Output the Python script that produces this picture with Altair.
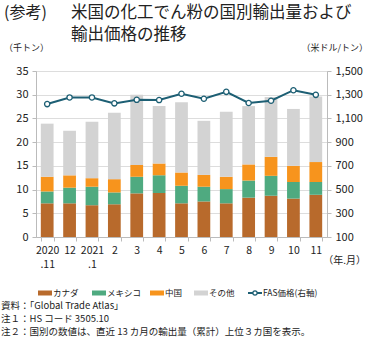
import altair as alt
import pandas as pd

months = ["2020|.11", "12", "2021|.1", "2", "3", "4", "5", "6", "7", "8", "9", "10", "11"]
canada = [7.1, 7.1, 6.7, 6.9, 9.2, 9.3, 7.1, 7.5, 7.1, 8.3, 8.7, 8.1, 8.9]
mexico = [2.5, 3.3, 3.9, 2.5, 3.5, 3.7, 3.7, 3.1, 3.0, 3.6, 4.2, 3.5, 2.7]
china = [3.1, 2.6, 1.8, 2.8, 2.5, 2.5, 2.8, 2.5, 2.6, 3.4, 4.0, 3.4, 4.2]
other = [11.2, 9.4, 11.9, 14.0, 14.8, 12.1, 14.8, 11.4, 13.7, 12.3, 12.6, 12.0, 13.8]
fas_price = [1221, 1277, 1277, 1227, 1257, 1255, 1308, 1266, 1324, 1230, 1249, 1338, 1299]

series = ["カナダ", "メキシコ", "中国", "その他"]
colors = ["#B86A2C", "#4FAA80", "#F7941D", "#D3D3D3"]

FONT = "Noto Sans CJK JP"
W, H = 291, 166
L, T = 36, 71

rows = []
for i, m in enumerate(months):
    for k, (s, vals) in enumerate(zip(series, [canada, mexico, china, other])):
        rows.append({"month": m, "series": s, "order": k, "value": vals[i]})
bars_df = pd.DataFrame(rows)
line_df = pd.DataFrame({"month": months, "price": fas_price})

xenc = alt.X("month:N", sort=months,
             scale=alt.Scale(paddingInner=0.43, paddingOuter=0.215),
             axis=alt.Axis(title=None, labelExpr="split(datum.label, '|')",
                           labelAngle=0, labelFont=FONT, labelFontSize=10.5,
                           labelColor="#222", labelLineHeight=14, labelPadding=4,
                           tickBand="extent", tickColor="#BBBBBB", tickSize=4,
                           domainColor="#BBBBBB", grid=False))

bars = alt.Chart(bars_df).mark_bar().encode(
    x=xenc,
    y=alt.Y("value:Q", stack="zero",
            scale=alt.Scale(domain=[0, 35], nice=False),
            axis=alt.Axis(title=None, values=list(range(0, 36, 5)),
                          labelFont=FONT, labelFontSize=11, labelColor="#222",
                          gridColor="#DDDDDD", domainColor="#BBBBBB",
                          tickColor="#BBBBBB", tickSize=4, labelPadding=4)),
    color=alt.Color("series:N", scale=alt.Scale(domain=series, range=colors), legend=None),
    order=alt.Order("order:Q", sort="ascending"),
)

yscale = alt.Scale(domain=[100, 1500], nice=False)
raxis = alt.Axis(title=None, orient="right", values=list(range(100, 1501, 200)),
                 labelExpr="format(datum.value, ',')", labelOverlap=False,
                 labelFont=FONT, labelFontSize=11, labelColor="#222",
                 grid=False, domainColor="#BBBBBB", tickColor="#BBBBBB",
                 tickSize=4, labelPadding=4)
line = alt.Chart(line_df).mark_line(color="#1D5F74", strokeWidth=2).encode(
    x=alt.X("month:N", sort=months),
    y=alt.Y("price:Q", scale=yscale, axis=raxis))
pts = alt.Chart(line_df).mark_point(filled=True, fill="white", stroke="#1D5F74",
                                    strokeWidth=1.3, size=28, opacity=1).encode(
    x=alt.X("month:N", sort=months), y=alt.Y("price:Q", scale=yscale, axis=raxis))

right = alt.layer(line, pts)


def txt(s, x, y, size, align="left", color="#222"):
    return alt.Chart(pd.DataFrame({"t": [s]})).mark_text(
        align=align, baseline="middle", font=FONT, fontSize=size,
        color=color).encode(
        text="t:N", x=alt.value(x - L), y=alt.value(y - T))


annos = [
    txt("(参考)", 4, 12.5, 16),
    txt("米国の化工でん粉の国別輸出量および", 71, 12.5, 16.5),
    txt("輸出価格の推移", 71, 35, 16.5),
    txt("（千トン）", 4, 48, 9),
    txt("（米ドル/トン）", 368, 48, 9, align="right"),
    txt("（年.月）", 366, 261, 10, align="right"),
    txt("資料：「Global Trade Atlas」", 1, 306, 9.5),
    txt("注１：HS コード 3505.10", 1, 319, 9.5),
    txt("注２：国別の数値は、直近 13 カ月の輸出量（累計）上位３カ国を表示。", 1, 332, 9.5),
]

LY = 293
LFS = 8.5
leg_items = [(38, "カナダ", colors[0]), (92, "メキシコ", colors[1]),
             (150, "中国", colors[2]), (194, "その他", colors[3])]
legend_layers = []
for x0, name, c in leg_items:
    legend_layers.append(alt.Chart(pd.DataFrame({"a": [0]})).mark_rect(color=c).encode(
        x=alt.value(x0 - L), x2=alt.value(x0 + 14 - L),
        y=alt.value(LY - 2.5 - T), y2=alt.value(LY + 2.5 - T)))
    legend_layers.append(txt(name, x0 + 15, LY, LFS))
legend_layers.append(alt.Chart(pd.DataFrame({"a": [0]})).mark_rule(color="#1D5F74", strokeWidth=2).encode(
    x=alt.value(248 - L), x2=alt.value(262 - L), y=alt.value(LY - T)))
legend_layers.append(alt.Chart(pd.DataFrame({"a": [0]})).mark_point(
    filled=True, fill="white", stroke="#1D5F74", size=18, opacity=1, strokeWidth=1.2).encode(
    x=alt.value(255 - L), y=alt.value(LY - T)))
legend_layers.append(txt("FAS価格(右軸)", 263, LY, LFS))

main = alt.layer(bars, right).resolve_scale(y="independent")

chart = alt.layer(main, *annos, *legend_layers).properties(
    width=W, height=H,
    autosize=alt.AutoSizeParams(type="none"),
    padding={"left": L, "top": T, "right": 370 - L - W, "bottom": 342 - T - H},
).configure_view(stroke=None).configure(background="white")

chart.save("out.html", embed_options={"renderer": "svg", "actions": False})
